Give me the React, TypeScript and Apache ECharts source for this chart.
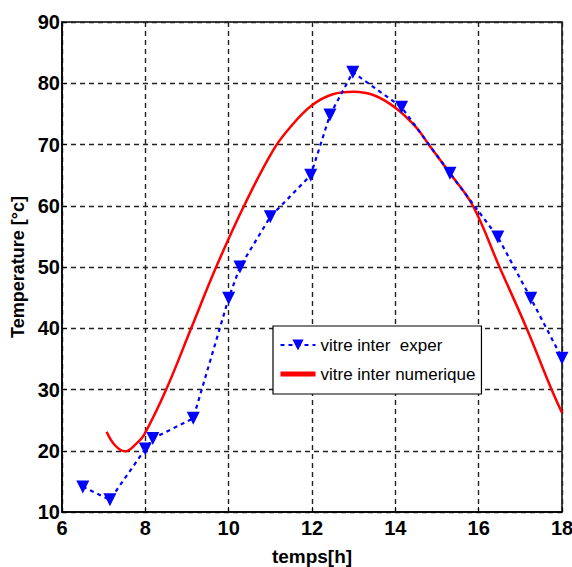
import React, { useEffect, useRef } from "react";
import * as echarts from "echarts";

const experX = [6.5, 7.15, 8.0, 8.18, 9.15, 10.0, 10.27, 11.0, 11.97, 12.43, 12.98, 14.15, 15.31, 16.46, 17.25, 18.0];
const experY = [14.1, 12, 20.3, 22, 25.3, 44.9, 50, 58.2, 65, 74.8, 81.8, 76.1, 65.3, 54.9, 44.9, 35.1];

const numX = [7.07, 7.27, 7.51, 7.79, 7.97, 8.5, 9.1, 9.7, 10.37, 11.07, 11.5, 12.0, 12.5, 13.0, 13.5, 14.0, 14.5, 14.8, 15.31, 15.86, 16.5, 17.15, 17.75, 18.0];
const numY = [23.1, 20.9, 19.9, 21.2, 22.6, 30, 40, 50, 60, 69.1, 73.0, 76.4, 78.2, 78.6, 78.0, 76.0, 72.8, 70, 65.3, 60, 50, 40, 30, 26.2];

const seriesNames = ["vitre inter  exper", "vitre inter numerique"];
const axisNames = { x: "temps[h]", y: "Temperature [°c]" };

const FONT = "'Liberation Sans', Arial, sans-serif";

export default function App() {
  const ref = useRef<HTMLDivElement>(null);
  useEffect(() => {
    const chart = echarts.init(ref.current!, null, { renderer: "svg" });
    const gridLine = { show: true, lineStyle: { color: "#222", type: [5, 4], width: 1.4 } };
    chart.setOption({
      animation: false,
      backgroundColor: "#fff",
      grid: {
        left: 62, right: 10, top: 22, bottom: 55,
        outerBoundsMode: "none",
        containLabel: false,
        show: true, borderColor: "#000", borderWidth: 1.5, backgroundColor: "transparent",
      },
      legend: {
        orient: "vertical",
        left: 273,
        top: 326,
        backgroundColor: "#fff",
        borderColor: "#000",
        borderWidth: 1.2,
        borderRadius: 0,
        padding: [9, 6, 10, 5],
        itemGap: 9,
        itemWidth: 35,
        itemHeight: 14,
        textStyle: { fontFamily: FONT, fontSize: 17, color: "#000", lineHeight: 20 },
        data: [
          { name: seriesNames[0] },
          { name: seriesNames[1], lineStyle: { width: 5 }, itemStyle: { opacity: 0 } },
        ],
      },
      xAxis: {
        type: "value",
        min: 6, max: 18, interval: 2,
        name: axisNames.x,
        nameLocation: "middle",
        nameGap: 35,
        nameTextStyle: { fontFamily: FONT, fontWeight: "bold", fontSize: 19, color: "#000" },
        axisLine: { show: true, lineStyle: { color: "#000", width: 1.5 } },
        axisTick: { show: true, inside: true, length: 5, lineStyle: { color: "#000" } },
        axisLabel: { fontFamily: FONT, fontWeight: "bold", fontSize: 20, color: "#000", margin: 6 },
        splitLine: gridLine,
      },
      yAxis: {
        type: "value",
        min: 10, max: 90, interval: 10,
        name: axisNames.y,
        nameLocation: "middle",
        nameGap: 20,
        nameTextStyle: { fontFamily: FONT, fontWeight: "bold", fontSize: 18, color: "#000" },
        axisLine: { show: true, lineStyle: { color: "#000", width: 1.5 } },
        axisTick: { show: true, inside: true, length: 5, lineStyle: { color: "#000" } },
        axisLabel: { fontFamily: FONT, fontWeight: "bold", fontSize: 20, color: "#000", margin: 2 },
        splitLine: gridLine,
      },
      series: [
        {
          name: seriesNames[0],
          type: "line",
          data: experX.map((x, i) => [x, experY[i]]),
          symbol: "triangle",
          symbolRotate: 180,
          symbolSize: 13,
          itemStyle: { color: "#0000ff" },
          lineStyle: { color: "#0000ff", width: 2.2, type: [4, 4] },
          z: 3,
        },
        {
          name: seriesNames[1],
          type: "line",
          data: numX.map((x, i) => [x, numY[i]]),
          showSymbol: false,
          symbol: "none",
          smooth: 0.4,
          itemStyle: { color: "#ff0000" },
          lineStyle: { color: "#ff0000", width: 2.5 },
          z: 2,
        },
      ],
    });
    return () => chart.dispose();
  }, []);
  return (
    <div
      ref={ref}
      style={{ position: "fixed", left: 0, top: 0, width: 572, height: 567, background: "#fff" }}
    />
  );
}
